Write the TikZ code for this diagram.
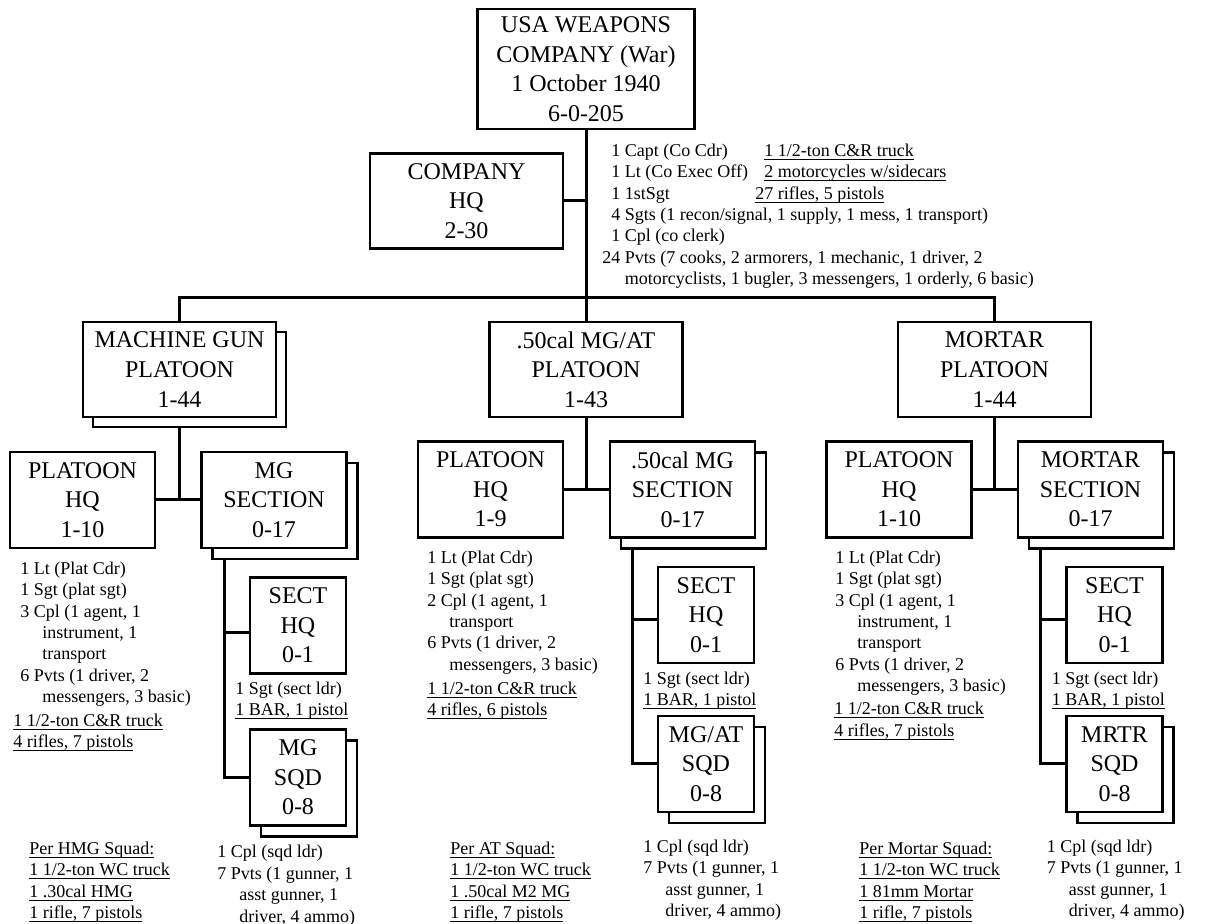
\documentclass[tikz,border=0pt]{standalone}
\usepackage{fontspec}
\setmainfont{Liberation Serif}
\usetikzlibrary{calc,shadows,backgrounds}

\newcommand{\contline}{\hspace*{11pt}}
\newcommand{\uln}[1]{\underline{\raisebox{0pt}[\height][0pt]{#1}}}

\tikzset{
  unit/.style={draw, line width=1.3pt, fill=white, rectangle, inner sep=0pt, align=center,
    font=\fontsize{12}{14.8}\selectfont},
  plt/.style={unit, minimum width=96.5pt, minimum height=47.5pt},
  sub/.style={unit, minimum width=72.5pt, minimum height=48pt},
  sqd/.style={unit, minimum width=48pt, minimum height=48pt},
  stack/.style={general shadow={shadow xshift=#1, shadow yshift=-#1, draw=black, fill=white, line width=1.3pt}},
  roster/.style={anchor=north west, inner sep=0pt, align=left, font=\fontsize{9}{10.7}\selectfont},
  link/.style={line width=1.5pt},
}

\begin{document}
\begin{tikzpicture}[x=0.5pt, y=-0.5pt]
    \useasboundingbox (0,0) rectangle (1211,924);

    % ---------------- Company ----------------
    \node[unit, minimum width=108.5pt, minimum height=60pt] (co) at (586,69)
        {USA WEAPONS\\COMPANY (War)\\1 October 1940\\6-0-205};
    \node[plt] (coHQ) at (466.5,201) {COMPANY\\HQ\\2-30};

    \node[roster] (coPers) at (602,143.5) {\hphantom{2}1 Capt (Co Cdr)\\
        \hphantom{2}1 Lt (Co Exec Off)\\
        \hphantom{2}1 1stSgt\\
        \hphantom{2}4 Sgts (1 recon/signal, 1 supply, 1 mess, 1 transport)\\
        \hphantom{2}1 Cpl (co clerk)\\
        24 Pvts (7 cooks, 2 armorers, 1 mechanic, 1 driver, 2\\
        \hphantom{24 }motorcyclists, 1 bugler, 3 messengers, 1 orderly, 6 basic)};
    \node[roster] (coEquip) at (755,143.5) {\hphantom{2}\uln{1 1/2-ton C\&R truck}\\
        \hphantom{2}\uln{2 motorcycles w/sidecars}\\
        \uln{27 rifles, 5 pistols}};

    % ---------------- Platoons ----------------
    \node[plt, stack=5pt] (mgPlt) at (179.5,369.5) {MACHINE GUN\\PLATOON\\1-44};
    \node[plt] (atPlt) at (586,369.5) {.50cal MG/AT\\PLATOON\\1-43};
    \node[plt] (mrPlt) at (994.5,369.5) {MORTAR\\PLATOON\\1-44};

    % ---------------- Machine gun platoon ----------------
    \node[sub] (mgHQ) at (82.5,500) {PLATOON\\HQ\\1-10};
    \node[sub, stack=5.5pt] (mgSec) at (274,500) {MG\\SECTION\\0-17};
    \node[sqd] (mgSectHQ) at (298,625.5) {SECT\\HQ\\0-1};
    \node[sqd, stack=5.5pt] (mgSqd) at (298,777.5) {MG\\SQD\\0-8};

    \node[roster] (mgHQPers) at (20,561.5) {1 Lt (Plat Cdr)\\
        1 Sgt (plat sgt)\\
        3 Cpl (1 agent, 1\\
        \contline instrument, 1\\
        \contline transport\\
        6 Pvts (1 driver, 2\\
        \contline messengers, 3 basic)};
    \node[roster] (mgHQEquip) at (13,713.5) {\uln{1 1/2-ton C\&R truck}\\
        \uln{4 rifles, 7 pistols}};
    \node[roster] (mgSectPers) at (235,681.5) {1 Sgt (sect ldr)\\
        \uln{1 BAR, 1 pistol}};
    \node[roster] (mgSqdPers) at (217,845) {1 Cpl (sqd ldr)\\
        7 Pvts (1 gunner, 1\\
        \contline asst gunner, 1\\
        \contline driver, 4 ammo)};
    \node[roster] (mgSqdEquip) at (29,841.5) {\uln{Per HMG Squad:}\\
        \uln{1 1/2-ton WC truck}\\
        \uln{1 .30cal HMG}\\
        \uln{1 rifle, 7 pistols}};

    % ---------------- .50cal MG/AT platoon ----------------
    \node[sub] (atHQ) at (490.5,489.5) {PLATOON\\HQ\\1-9};
    \node[sub, stack=5.5pt] (atSec) at (682.5,489.5) {.50cal MG\\SECTION\\0-17};
    \node[sqd] (atSectHQ) at (706,615) {SECT\\HQ\\0-1};
    \node[sqd, stack=5.5pt] (atSqd) at (706,764) {MG/AT\\SQD\\0-8};

    \node[roster] (atHQPers) at (427,550.5) {1 Lt (Plat Cdr)\\
        1 Sgt (plat sgt)\\
        2 Cpl (1 agent, 1\\
        \contline transport\\
        6 Pvts (1 driver, 2\\
        \contline messengers, 3 basic)};
    \node[roster] (atHQEquip) at (427,681.5) {\uln{1 1/2-ton C\&R truck}\\
        \uln{4 rifles, 6 pistols}};
    \node[roster] (atSectPers) at (643,671.5) {1 Sgt (sect ldr)\\
        \uln{1 BAR, 1 pistol}};
    \node[roster] (atSqdPers) at (643,839.5) {1 Cpl (sqd ldr)\\
        7 Pvts (1 gunner, 1\\
        \contline asst gunner, 1\\
        \contline driver, 4 ammo)};
    \node[roster] (atSqdEquip) at (450,841.5) {\uln{Per AT Squad:}\\
        \uln{1 1/2-ton WC truck}\\
        \uln{1 .50cal M2 MG}\\
        \uln{1 rifle, 7 pistols}};

    % ---------------- Mortar platoon ----------------
    \node[sub] (mrHQ) at (899,489.5) {PLATOON\\HQ\\1-10};
    \node[sub, stack=5.5pt] (mrSec) at (1090.5,489.5) {MORTAR\\SECTION\\0-17};
    \node[sqd] (mrSectHQ) at (1114.5,615) {SECT\\HQ\\0-1};
    \node[sqd, stack=5.5pt] (mrSqd) at (1114.5,764) {MRTR\\SQD\\0-8};

    \node[roster] (mrHQPers) at (835,550.5) {1 Lt (Plat Cdr)\\
        1 Sgt (plat sgt)\\
        3 Cpl (1 agent, 1\\
        \contline instrument, 1\\
        \contline transport\\
        6 Pvts (1 driver, 2\\
        \contline messengers, 3 basic)};
    \node[roster] (mrHQEquip) at (834,702) {\uln{1 1/2-ton C\&R truck}\\
        \uln{4 rifles, 7 pistols}};
    \node[roster] (mrSectPers) at (1051.5,671.5) {1 Sgt (sect ldr)\\
        \uln{1 BAR, 1 pistol}};
    \node[roster] (mrSqdPers) at (1046.5,839.5) {1 Cpl (sqd ldr)\\
        7 Pvts (1 gunner, 1\\
        \contline asst gunner, 1\\
        \contline driver, 4 ammo)};
    \node[roster] (mrSqdEquip) at (859,841.5) {\uln{Per Mortar Squad:}\\
        \uln{1 1/2-ton WC truck}\\
        \uln{1 81mm Mortar}\\
        \uln{1 rifle, 7 pistols}};

    % ---------------- connectors ----------------
    \begin{scope}[on background layer]
        \coordinate (bus) at (586,298);
        \draw[link] (co.south) -- (atPlt.north);
        \draw[link] (coHQ.east) -- (co.south |- coHQ.east);
        \draw[link] (mgPlt.north) |- (bus) -| (mrPlt.north);

        \draw[link] (mgPlt.south) -- (mgPlt.south |- mgHQ.east);
        \draw[link] (mgHQ.east) -- (mgSec.west);
        \coordinate (mgTrunk) at ($(mgSec.south west)+(24,0)$);
        \draw[link] (mgTrunk) |- ($(mgSectHQ.west)+(0,7)$);
        \draw[link] (mgTrunk) |- (mgSqd.west);

        \draw[link] (atPlt.south) -- (atPlt.south |- atHQ.east);
        \draw[link] (atHQ.east) -- (atSec.west);
        \coordinate (atTrunk) at ($(atSec.south west)+(24,0)$);
        \draw[link] (atTrunk) |- ($(atSectHQ.west)+(0,5)$);
        \draw[link] (atTrunk) |- (atSqd.west);

        \draw[link] (mrPlt.south) -- (mrPlt.south |- mrHQ.east);
        \draw[link] (mrHQ.east) -- (mrSec.west);
        \coordinate (mrTrunk) at ($(mrSec.south west)+(24,0)$);
        \draw[link] (mrTrunk) |- ($(mrSectHQ.west)+(0,5)$);
        \draw[link] (mrTrunk) |- (mrSqd.west);
    \end{scope}
\end{tikzpicture}
\end{document}
